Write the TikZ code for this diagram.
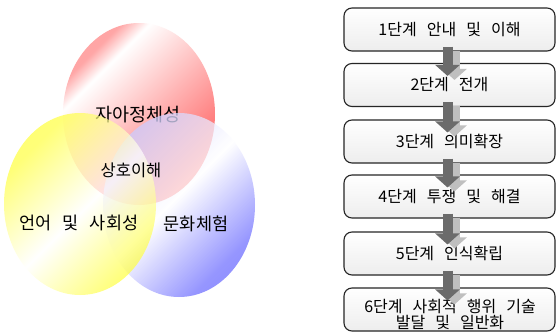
\documentclass[tikz,border=0pt]{standalone}
\usepackage{fontspec}
\setmainfont{Noto Sans CJK KR}[WordSpace=2.8]
\usetikzlibrary{arrows.meta}

% colour bands of the three circles
\pgfdeclarehorizontalshading{redband}{100bp}{color(0bp)=(red!40); color(27bp)=(red!35); color(33bp)=(white); color(70bp)=(red!55); color(100bp)=(red!75)}
\pgfdeclarehorizontalshading{yellowband}{100bp}{color(0bp)=(yellow!85); color(28bp)=(yellow!75); color(52bp)=(white); color(75bp)=(yellow!75); color(100bp)=(yellow!85)}
\pgfdeclarehorizontalshading{blueband}{100bp}{color(0bp)=(blue!25); color(25bp)=(blue!20); color(48bp)=(white); color(72bp)=(blue!55); color(100bp)=(blue!70)}

\tikzset{
  stage/.style={draw=black!85, line width=1.1pt, rounded corners=8pt,
    top color=white, bottom color=black!7, minimum width=211pt,
    minimum height=43pt, font=\fontsize{16}{16}\selectfont, align=center},
  stagetext/.style={font=\fontsize{16}{16}\selectfont, align=center},
  flow/.style={line width=10pt, draw=black!58, -{Triangle[width=24pt,length=11pt]}},
  flowshadow/.style={flow, draw=black!25},
  venn/.style={font=\fontsize{17.5}{18}\selectfont}
}

\begin{document}
\begin{tikzpicture}[x=1pt, y=-1pt]
    \useasboundingbox[fill=white] (0,0) rectangle (557,332);

    % Venn circles
    \shade[shading=redband, shading angle=-45] (139,114) ellipse [x radius=76, y radius=91];
    \node[venn, font=\fontsize{18.5}{18}\selectfont] (self) at (138,115) {자아정체성};
    \shade[shading=blueband, shading angle=-45, fill opacity=0.75] (179,205) ellipse [x radius=76, y radius=92];
    \shade[shading=yellowband, shading angle=-45, fill opacity=0.7] (80,204) ellipse [x radius=76, y radius=91];
    \node[venn, font=\fontsize{16.5}{18}\selectfont] (mutual) at (131,170) {상호이해};
    \node[venn] (lang) at (79,223) {언어 및 사회성};
    \node[venn] (culture) at (196,224) {문화체험};

    % Stages
    \node[stage] (s1) at (449.5,29.5) {1단계 안내 및 이해};
    \node[stage] (s2) at (449.5,85) {2단계 전개};
    \node[stage] (s3) at (449.5,141.5) {3단계 의미확장};
    \node[stage] (s4) at (449.5,196.5) {4단계 투쟁 및 해결};
    \node[stage] (s5) at (449.5,253.5) {5단계 인식확립};
    \node[stage] (s6) at (449.5,309.5) {};
    \node[stagetext] (s6text) at (450,315) {6단계 사회적 행위 기술\\발달 및 일반화};

    % Arrows
    \foreach \a/\b in {s1/s2, s2/s3, s3/s4, s4/s5, s5/s6} {
        \draw[flowshadow] ([xshift=5pt,yshift=1pt]\a.south) -- ([xshift=5pt,yshift=-17pt]\b.north);
        \draw[flow] ([xshift=-2pt,yshift=5pt]\a.south) -- ([xshift=-2pt,yshift=-13pt]\b.north);
    }
\end{tikzpicture}
\end{document}
